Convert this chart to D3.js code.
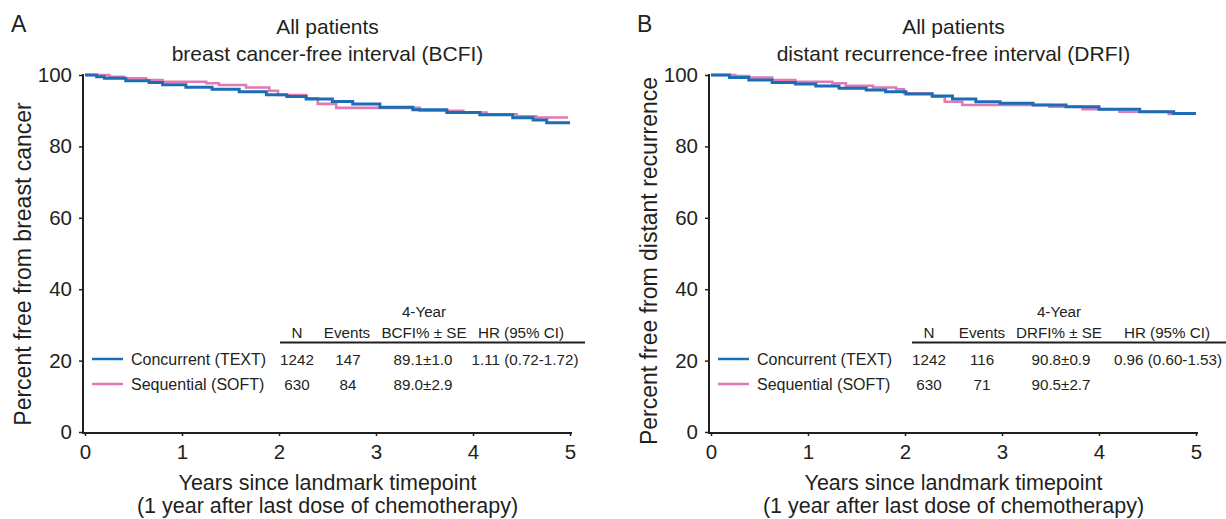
<!DOCTYPE html>
<html>
<head>
<meta charset="utf-8">
<script src="https://cdn.jsdelivr.net/npm/d3@7"></script>
<style>
  body { margin: 0; background: #fff; }
  svg text { font-family: 'Liberation Sans', Arial, Helvetica, sans-serif; fill: #231f20; }
</style>
</head>
<body>
<svg id="chart" width="1226" height="519"></svg>
<script>
// ---- data ----
const xTicks = [0, 1, 2, 3, 4, 5];
const yTicks = [0, 20, 40, 60, 80, 100];

// Panel A: BCFI, Kaplan-Meier steps (years, percent)
const bcfiTextTime = [0, 0.12, 0.2, 0.42, 0.66, 0.8, 1.04, 1.31, 1.59, 1.87, 2.08, 2.28, 2.55, 2.76, 3.04, 3.38, 3.73, 4.07, 4.41, 4.62, 4.76, 5.0];
const bcfiTextPct  = [100, 99.5, 99.1, 98.4, 97.9, 97.3, 96.6, 96.0, 95.3, 94.5, 94.0, 93.3, 92.6, 91.9, 91.0, 90.3, 89.5, 88.9, 88.0, 87.4, 86.6, 86.6];
const bcfiSoftTime = [0, 0.25, 0.4, 0.63, 0.8, 1.25, 1.38, 1.66, 1.9, 1.99, 2.28, 2.4, 2.59, 3.45, 3.9, 4.14, 4.45, 4.65, 4.98];
const bcfiSoftPct  = [100, 99.5, 99.1, 98.6, 98.1, 97.7, 97.2, 96.5, 95.6, 94.4, 93.5, 91.9, 90.8, 90.0, 89.5, 89.0, 88.4, 88.1, 88.1];

// Panel B: DRFI
const drfiTextTime = [0, 0.19, 0.39, 0.63, 0.87, 1.08, 1.32, 1.6, 1.8, 2.01, 2.28, 2.49, 2.73, 2.98, 3.32, 3.66, 4.0, 4.42, 4.77, 5.0];
const drfiTextPct  = [100, 99.3, 98.6, 97.9, 97.5, 96.9, 96.3, 95.8, 95.3, 94.7, 94.1, 93.3, 92.5, 92.1, 91.6, 91.1, 90.4, 89.7, 89.2, 89.2];
const drfiSoftTime = [0, 0.25, 0.39, 0.63, 0.87, 1.25, 1.39, 1.67, 1.91, 1.99, 2.28, 2.41, 2.59, 3.49, 3.83, 4.21, 4.72, 4.77];
const drfiSoftPct  = [100, 99.7, 99.3, 98.6, 98.1, 97.7, 97.0, 96.5, 96.0, 94.9, 93.9, 92.5, 91.6, 91.1, 90.4, 89.7, 89.1, 89.1];

const groupNames = ['Concurrent (TEXT)', 'Sequential (SOFT)'];
const bcfiHeader = ['N', 'Events', 'BCFI% \u00b1 SE', 'HR (95% CI)'];
const drfiHeader = ['N', 'Events', 'DRFI% \u00b1 SE', 'HR (95% CI)'];
const bcfiRows = [['1242', '147', '89.1\u00b11.0', '1.11 (0.72-1.72)'], ['630', '84', '89.0\u00b12.9', '']];
const drfiRows = [['1242', '116', '90.8\u00b10.9', '0.96 (0.60-1.53)'], ['630', '71', '90.5\u00b12.7', '']];

const colors = { text: '#1b6db6', soft: '#e07ab5' };

const svg = d3.select('#chart');

function zip(t, p) { return t.map((d, i) => ({ t: d, p: p[i] })); }

function drawPanel(cfg) {
  const x = d3.scaleLinear().domain([0, 5]).range([cfg.left, cfg.left + 485]);
  const y = d3.scaleLinear().domain([0, 100]).range([432, 75]);
  const axisX = cfg.left - 2;
  const g = svg.append('g');

  // panel letter + titles
  g.append('text').attr('x', cfg.left - 74).attr('y', 32)
    .style('font-size', '23px').text(cfg.letter);
  const cx = cfg.left + 242.5;
  g.append('text').attr('x', cx).attr('y', 34).attr('text-anchor', 'middle')
    .style('font-size', '21px').text('All patients');
  g.append('text').attr('x', cx).attr('y', 61).attr('text-anchor', 'middle')
    .style('font-size', '21px').text(cfg.title);

  // axes
  const yAxis = d3.axisLeft(y).tickValues(yTicks).tickSize(4).tickPadding(7);
  const yG = g.append('g').attr('transform', `translate(${axisX},0)`).call(yAxis);
  yG.select('.domain').remove();
  yG.selectAll('text').style('font-size', '20.5px').attr('fill', '#231f20');
  yG.selectAll('line').attr('stroke', '#231f20').attr('stroke-width', 1.5);

  const xAxis = d3.axisBottom(x).tickValues(xTicks).tickFormat(d3.format('d'))
    .tickSize(3).tickPadding(8);
  const xG = g.append('g').attr('transform', 'translate(0,433)').call(xAxis);
  xG.select('.domain').remove();
  xG.selectAll('text').style('font-size', '20.5px').attr('fill', '#231f20');
  xG.selectAll('line').attr('stroke', '#231f20').attr('stroke-width', 1.5);

  g.append('line').attr('x1', axisX).attr('x2', axisX).attr('y1', y(100) - 1).attr('y2', 434)
    .attr('stroke', '#231f20').attr('stroke-width', 2);
  g.append('line').attr('x1', axisX - 1).attr('x2', x(5) + 2).attr('y1', 433).attr('y2', 433)
    .attr('stroke', '#231f20').attr('stroke-width', 2);

  // axis titles
  g.append('text').attr('x', cx).attr('y', 490).attr('text-anchor', 'middle')
    .style('font-size', '21.5px').text('Years since landmark timepoint');
  g.append('text').attr('x', cx).attr('y', 513).attr('text-anchor', 'middle')
    .style('font-size', '21.5px').text('(1 year after last dose of chemotherapy)');
  g.append('text').attr('transform', `translate(${cfg.left - 54},${cfg.yTitleMid}) rotate(-90)`)
    .attr('text-anchor', 'middle').style('font-size', '23px').text(cfg.yTitle);

  // KM curves
  const line = d3.line().x(d => x(d.t)).y(d => y(d.p)).curve(d3.curveStepAfter);
  g.append('path').datum(cfg.soft).attr('d', line)
    .attr('fill', 'none').attr('stroke', colors.soft).attr('stroke-width', 2.6);
  g.append('path').datum(cfg.text).attr('d', line)
    .attr('fill', 'none').attr('stroke', colors.text).attr('stroke-width', 3);

  // table / legend
  const t = g.append('g').style('font-size', '15.2px');
  t.append('text').attr('x', cfg.cols[2]).attr('y', 317).attr('text-anchor', 'middle').text('4-Year');
  cfg.header.forEach((h, i) => {
    t.append('text').attr('x', cfg.cols[i]).attr('y', 338).attr('text-anchor', 'middle').text(h);
  });
  t.append('line').attr('x1', cfg.rule[0]).attr('x2', cfg.rule[1]).attr('y1', 342.5).attr('y2', 342.5)
    .attr('stroke', '#231f20').attr('stroke-width', 2);
  const rowY = [359, 384];
  const lineColors = [colors.text, colors.soft];
  cfg.rows.forEach((row, r) => {
    t.append('line').attr('x1', cfg.left + 7).attr('x2', cfg.left + 38)
      .attr('y1', rowY[r]).attr('y2', rowY[r])
      .attr('stroke', lineColors[r]).attr('stroke-width', 2.5);
    t.append('text').attr('x', cfg.left + 46).attr('y', rowY[r] + 6)
      .style('font-size', '16px').text(groupNames[r]);
    row.forEach((v, i) => {
      t.append('text').attr('x', cfg.vals[i]).attr('y', rowY[r] + 6)
        .attr('text-anchor', 'middle').text(v);
    });
  });
}

drawPanel({
  letter: 'A', left: 85, yTitleMid: 264,
  title: 'breast cancer-free interval (BCFI)',
  yTitle: 'Percent free from breast cancer',
  text: zip(bcfiTextTime, bcfiTextPct), soft: zip(bcfiSoftTime, bcfiSoftPct),
  header: bcfiHeader, rows: bcfiRows,
  cols: [297, 347, 424, 521], vals: [297, 348, 423, 525], rule: [280, 585]
});
drawPanel({
  letter: 'B', left: 711, yTitleMid: 261,
  title: 'distant recurrence-free interval (DRFI)',
  yTitle: 'Percent free from distant recurrence',
  text: zip(drfiTextTime, drfiTextPct), soft: zip(drfiSoftTime, drfiSoftPct),
  header: drfiHeader, rows: drfiRows,
  cols: [929, 982, 1059, 1167], vals: [929, 982, 1061, 1168], rule: [912, 1226]
});
</script>
</body>
</html>
